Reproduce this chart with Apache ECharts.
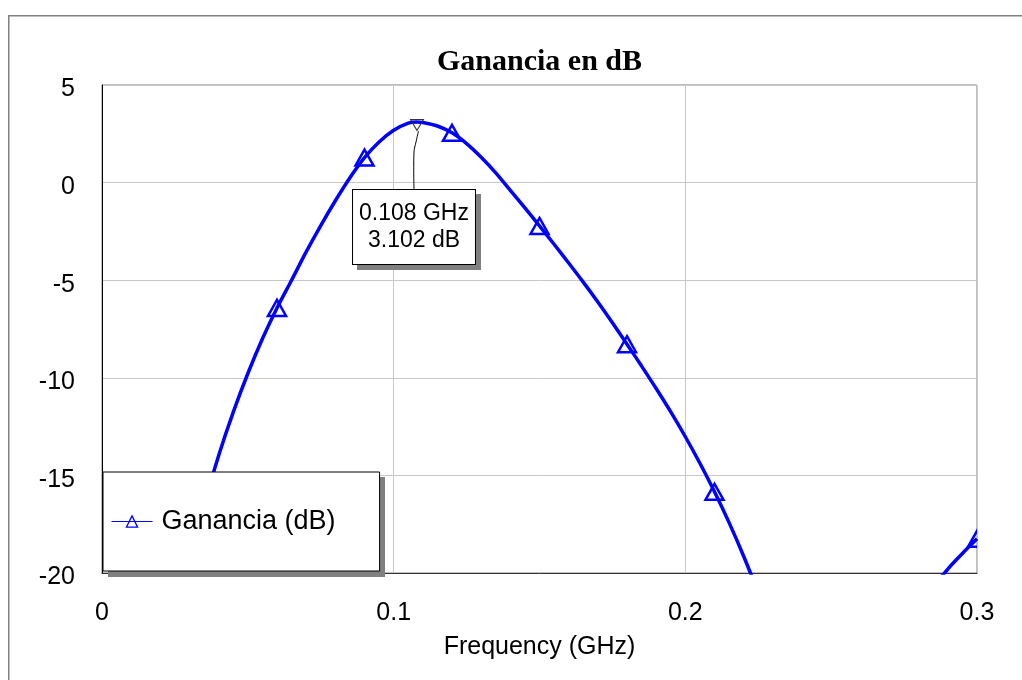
<!DOCTYPE html>
<html>
<head>
<meta charset="utf-8">
<script src="https://cdn.jsdelivr.net/npm/echarts@6/dist/echarts.min.js"></script>
<style>
  html, body { margin: 0; padding: 0; background: #fff; }
  #chart { width: 1022px; height: 680px; }
</style>
</head>
<body>
<div id="chart"></div>
<script>
// Gain response of the amplifier, frequency in GHz, gain in dB
const freqGHz = [
  0.020, 0.025, 0.030, 0.035, 0.040, 0.045, 0.050, 0.055, 0.060, 0.065,
  0.070, 0.075, 0.080, 0.085, 0.090, 0.095, 0.100, 0.105, 0.108, 0.110,
  0.115, 0.120, 0.125, 0.130, 0.135, 0.140, 0.145, 0.150, 0.155, 0.160,
  0.165, 0.170, 0.175, 0.180, 0.185, 0.190, 0.195, 0.200, 0.205, 0.210,
  0.215, 0.220, 0.225, 0.230, 0.240, 0.250, 0.260, 0.270, 0.280, 0.285,
  0.290, 0.295, 0.300
];
const gainDB = [
  -26.5, -22.6, -19.35, -16.5, -13.98, -11.76, -9.78, -8.0, -6.42, -5.0,
  -3.55, -2.2, -0.93, 0.25, 1.28, 2.08, 2.68, 3.05, 3.102, 3.08,
  2.9, 2.55, 2.0, 1.3, 0.5, -0.4, -1.3, -2.22, -3.16, -4.12,
  -5.1, -6.12, -7.18, -8.28, -9.4, -10.55, -11.75, -13.02, -14.38, -15.84,
  -17.42, -19.14, -21.02, -23.1, -28, -34, -38, -31, -23.5, -20.8,
  -19.8, -19.0, -18.25
];
// Marker readout at the gain peak
const peakFreq = 0.108;
const peakGain = 3.102;
// Triangles are placed every 0.03 GHz
const markerStepMHz = 30;

const xTickLabels = ['0', '0.1', '0.2', '0.3'];
const yTickLabels = ['-20', '-15', '-10', '-5', '0', '5'];
const seriesName = 'Ganancia (dB)';

const curve = freqGHz.map((f, i) => [f, gainDB[i]]);
const markerPts = curve.filter(p => Math.round(p[0] * 1000) % markerStepMHz === 0);

const BLUE = '#0000ff';
const SHADOW = '#808080';
const SANS = '"Liberation Sans", Arial, sans-serif';

const chart = echarts.init(document.getElementById('chart'), null, { renderer: 'canvas' });

chart.setOption({
  animation: false,
  backgroundColor: '#fff',
  title: {
    text: 'Ganancia en dB',
    left: 539.5,
    top: 47,
    padding: 0,
    textAlign: 'center',
    textStyle: { fontFamily: '"Liberation Serif", "Times New Roman", serif', fontWeight: 'bold', fontSize: 30, color: '#000' }
  },
  grid: {
    left: 102, right: 45, top: 85, bottom: 107,
    show: true, borderColor: '#808080', borderWidth: 1, backgroundColor: 'transparent'
  },
  xAxis: {
    type: 'value', min: 0, max: 0.3, interval: 0.1,
    name: 'Frequency (GHz)', nameLocation: 'middle', nameGap: 62,
    nameTextStyle: { fontFamily: SANS, fontSize: 25, color: '#000' },
    axisLine: { show: true, onZero: false, lineStyle: { color: '#333', width: 1 } },
    axisTick: { show: false },
    axisLabel: { fontFamily: SANS, fontSize: 25, color: '#000', margin: 28,
      formatter: (v, i) => xTickLabels[i] },
    splitLine: { show: true, lineStyle: { color: '#c8c8c8', width: 1 } }
  },
  yAxis: {
    type: 'value', min: -20, max: 5, interval: 5,
    axisLine: { show: true, onZero: false, lineStyle: { color: '#000', width: 1 } },
    axisTick: { show: false },
    axisLabel: { fontFamily: SANS, fontSize: 25, color: '#000', margin: 27,
      verticalAlign: 'top', lineHeight: 9,
      formatter: (v, i) => yTickLabels[i] },
    splitLine: { show: true, lineStyle: { color: '#c8c8c8', width: 1 } }
  },
  legend: {
    data: [seriesName],
    left: 103, top: 472,
    orient: 'vertical',
    padding: [36, 44, 36, 8],
    itemWidth: 41, itemHeight: 14,
    backgroundColor: '#fff',
    borderColor: '#000', borderWidth: 1,
    selectedMode: false,
    z: 6,
    lineStyle: { color: BLUE, width: 1 },
    itemStyle: { color: 'rgba(255,255,255,0)', borderColor: BLUE, borderWidth: 1.3 },
    textStyle: { fontFamily: SANS, fontSize: 27, color: '#000', padding: [0, 0, 0, 4] }
  },
  series: [
    {
      name: seriesName,
      type: 'line',
      data: curve,
      smooth: 0.3,
      symbol: 'triangle',
      showSymbol: false,
      clip: true,
      lineStyle: { color: BLUE, width: 3.5 },
      itemStyle: { color: BLUE },
      z: 2,
      markPoint: {
        symbol: 'triangle',
        symbolRotate: 180,
        symbolSize: [13, 11],
        symbolOffset: [0, 3],
        itemStyle: { color: 'rgba(255,255,255,0)', borderColor: '#333', borderWidth: 1 },
        label: {
          show: true,
          position: 'inside',
          offset: [-3, 102],
          formatter: () => peakFreq.toFixed(3) + ' GHz\n' + peakGain.toFixed(3) + ' dB',
          fontFamily: SANS, fontSize: 23, lineHeight: 27, color: '#000',
          align: 'center', verticalAlign: 'middle',
          backgroundColor: '#fff', borderColor: '#000', borderWidth: 1,
          padding: [10, 6, 10, 6]
        },
        data: [{ coord: [peakFreq, peakGain] }],
        z: 10
      }
    },
    {
      name: seriesName,
      type: 'custom',
      data: markerPts,
      clip: true,
      z: 3,
      renderItem: (params, api) => {
        const p = api.coord([api.value(0), api.value(1)]);
        return {
          type: 'polygon',
          shape: { points: [[p[0], p[1] - 8], [p[0] + 9, p[1] + 8], [p[0] - 9, p[1] + 8]] },
          style: { fill: 'none', stroke: BLUE, lineWidth: 2.5 }
        };
      }
    }
  ]
});

// Page frame, drop shadows behind the legend and the readout box, and the
// leader from the peak marker down to its readout
const pk = chart.convertToPixel({ seriesIndex: 0 }, [peakFreq, peakGain]);
chart.setOption({
  graphic: [
    {
      type: 'rect', silent: true, z: 0,
      shape: { x: 8.75, y: 15.75, width: 1100, height: 900 },
      style: { fill: 'none', stroke: '#808080', lineWidth: 1.5 }
    },
    {
      type: 'rect', silent: true, z: 5,
      shape: { x: 108, y: 477, width: 277, height: 100 },
      style: { fill: SHADOW }
    },
    {
      type: 'rect', silent: true, z: 9,
      shape: { x: pk[0] - 60, y: pk[1] + 72, width: 124, height: 76 },
      style: { fill: SHADOW }
    },
    {
      type: 'polyline', silent: true, z: 50,
      shape: { points: [[pk[0] + 1.5, pk[1] + 9], [pk[0] - 1, pk[1] + 20], [pk[0] - 3, pk[1] + 30], [pk[0] - 3, pk[1] + 67]], smooth: 0.4 },
      style: { stroke: '#000', lineWidth: 1, fill: 'none' }
    }
  ]
});
</script>
</body>
</html>
